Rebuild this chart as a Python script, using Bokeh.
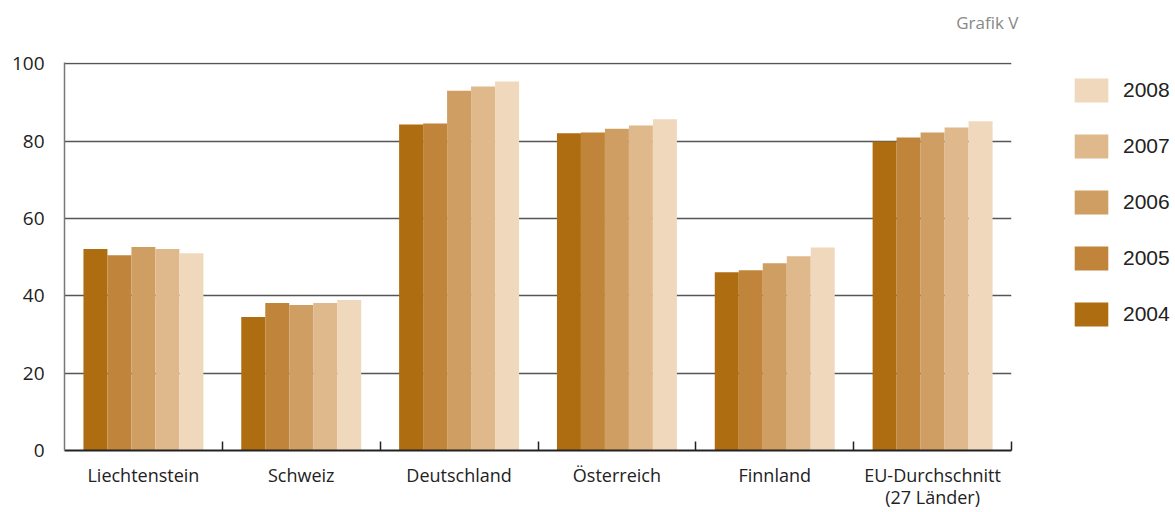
import numpy as np
from bokeh.plotting import figure
from bokeh.models import (ColumnDataSource, Range1d, FixedTicker, Legend, LegendItem, Title)
from bokeh.transform import dodge
from bokeh.embed import file_html
from bokeh.resources import INLINE

categories = ["Liechtenstein", "Schweiz", "Deutschland", "Österreich", "Finnland", "EU-Durchschnitt\n(27 Länder)"]
years = ["2004", "2005", "2006", "2007", "2008"]
v2004 = [52.1, 34.5, 84.3, 82.0, 46.1, 79.9]
v2005 = [50.5, 38.1, 84.5, 82.2, 46.6, 80.9]
v2006 = [52.6, 37.6, 93.0, 83.2, 48.4, 82.2]
v2007 = [52.1, 38.1, 94.1, 84.0, 50.2, 83.5]
v2008 = [51.0, 38.9, 95.4, 85.6, 52.5, 85.1]
colors = ["#AE6D11", "#C0843A", "#CF9E63", "#DFB88C", "#EFD8BC"]
y_ticks = [0, 20, 40, 60, 80, 100]

n = len(categories)
xpos = np.arange(n) + 0.5
src = ColumnDataSource(dict(x=xpos, v2004=v2004, v2005=v2005, v2006=v2006, v2007=v2007, v2008=v2008))

p = figure(frame_width=947, frame_height=388, output_backend="svg", toolbar_location=None,
           x_range=Range1d(0, n), y_range=Range1d(0, 100.3),
           min_border_left=64, min_border_right=10, min_border_top=62, min_border_bottom=56)
p.outline_line_color = None
p.background_fill_color = "white"

bw = 0.152
offsets = [-2 * bw, -bw, 0, bw, 2 * bw]
renderers = []
for yr, col, off in zip(years, colors, offsets):
    r = p.vbar(x=dodge("x", off), top="v" + yr, width=bw, bottom=0, source=src,
               fill_color=col, line_color=None)
    renderers.append(r)

# x axis
p.xaxis.ticker = FixedTicker(ticks=list(xpos), minor_ticks=list(range(1, n + 1)))
p.xaxis.major_label_overrides = {float(x): c for x, c in zip(xpos, categories)}
p.xaxis.major_tick_line_color = None
p.xaxis.minor_tick_in = 9
p.xaxis.minor_tick_out = 0
p.xaxis.minor_tick_line_color = "#222222"
p.xaxis.minor_tick_line_width = 1.5
p.xaxis.axis_line_color = "#222222"
p.xaxis.axis_line_width = 2
p.xaxis.major_label_text_font = "Open Sans"
p.xaxis.major_label_text_font_size = "18px"
p.xaxis.major_label_text_color = "#222222"
p.xaxis.major_label_text_line_height = 0.95
p.xaxis.major_label_standoff = 6
p.xgrid.grid_line_color = None

# y axis
p.yaxis.ticker = FixedTicker(ticks=y_ticks)
p.yaxis.major_tick_line_color = None
p.yaxis.minor_tick_line_color = None
p.yaxis.axis_line_color = "#777777"
p.yaxis.axis_line_width = 1.5
p.yaxis.major_label_text_font = "Open Sans"
p.yaxis.major_label_text_font_size = "19px"
p.yaxis.major_label_text_color = "#222222"
p.yaxis.major_label_standoff = 14
p.ygrid.grid_line_color = "#555555"
p.ygrid.grid_line_width = 1.5

items = [LegendItem(label=yr, renderers=[r]) for yr, r in zip(years, renderers)][::-1]
legend = Legend(items=items, location=(59, 121), orientation="vertical",
                glyph_width=42, glyph_height=30, spacing=26, label_standoff=11,
                label_text_font="Liberation Sans", label_text_font_size="21px",
                label_text_color="#222222", border_line_color=None,
                background_fill_alpha=0, padding=0, margin=0)
legend.label_height = 30
p.add_layout(legend, "right")

# empty spacer title (closest to the plot), then the real title above it
spacer = Title(text=" ", text_font_size="14px", standoff=6)
p.add_layout(spacer, "above")
title = Title(text="Grafik V", align="right", text_color="#888888",
              text_font="Open Sans", text_font_size="17px", text_font_style="normal",
              offset=-7, standoff=10)
p.add_layout(title, "above")

html = file_html(p, INLINE)
open("out.html", "w").write(html)
